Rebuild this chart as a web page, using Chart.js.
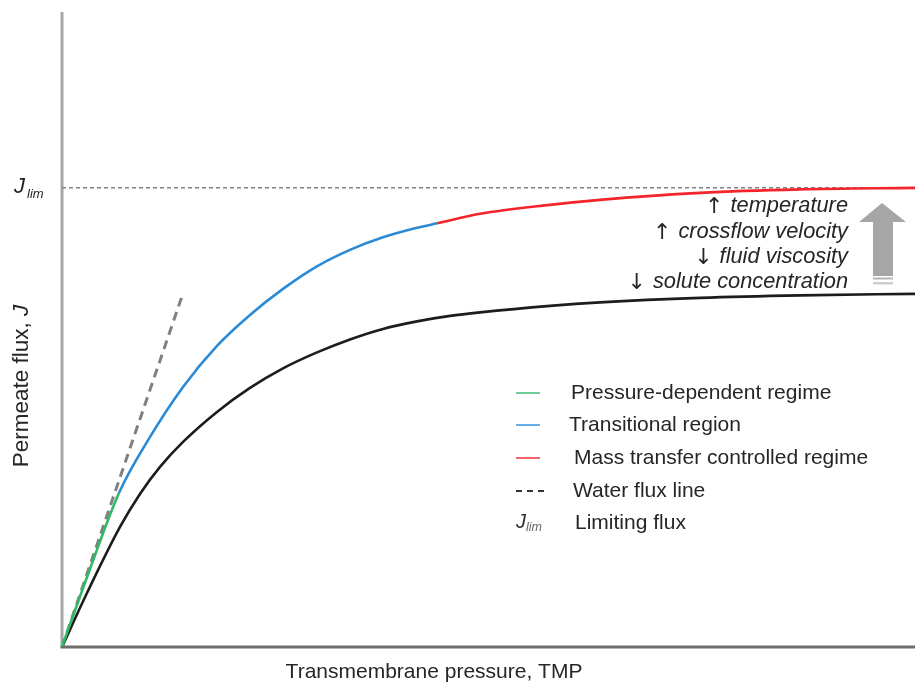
<!DOCTYPE html>
<html>
<head>
<meta charset="utf-8">
<title>Permeate flux vs transmembrane pressure</title>
<script src="https://cdn.jsdelivr.net/npm/chart.js@4/dist/chart.umd.min.js"></script>
<style>
  html, body { margin: 0; padding: 0; background: #ffffff; }
  canvas { display: block; }
</style>
</head>
<body>
<canvas id="flux" width="915" height="685"></canvas>
<script>
// Upper curve: flux with improved operating conditions (approaches J_lim)
const tmpUpper  = [0, 3.28, 6.68, 10.32, 14.19, 18.17, 22.04, 25.91, 29.89, 33.76, 37.63, 41.62, 43.96, 49.0, 57.21, 63.07, 74.8, 86.52, 100];
const fluxUpper = [0, 17.0, 33.55, 45.75, 56.64, 65.58, 72.33, 78.0, 82.9, 86.49, 89.22, 91.29, 92.27, 94.34, 96.3, 97.39, 98.91, 99.67, 100];

// Lower curve: baseline flux
const tmpLower  = [0, 2.93, 6.80, 9.14, 11.49, 14.19, 18.17, 22.04, 25.91, 29.89, 33.76, 37.63, 41.62, 45.49, 49.0, 57.21, 63.07, 74.8, 86.52, 100];
const fluxLower = [0, 11.76, 26.14, 33.33, 39.22, 44.66, 51.20, 56.43, 60.68, 64.16, 66.99, 69.28, 70.92, 72.11, 72.88, 74.29, 75.05, 76.03, 76.58, 76.91];

// Pure water flux line
const tmpWater  = [0, 14.2];
const fluxWater = [0, 77.1];

// Limiting flux and regime boundaries along TMP
const jLim = 100;
const tmpRange = [0, 100];
const pressureRegimeEnd = 6.68;
const transitionEnd = 43.96;

const regimeLabels = ['Pressure-dependent regime', 'Transitional region', 'Mass transfer controlled regime', 'Water flux line', 'Limiting flux'];
const effectLabels = [['\u2191', 'temperature'], ['\u2191', 'crossflow velocity'], ['\u2193', 'fluid viscosity'], ['\u2193', 'solute concentration']];

const GREEN = '#2fb866';
const BLUE = '#2b8ad6';
const RED = '#f5242a';
const BLACK = '#1c1c1c';
const GREY = '#808080';
const FONT = '"Liberation Sans", Arial, Helvetica, sans-serif';

const pts = (xs, ys) => xs.map((x, i) => ({ x, y: ys[i] }));

function text(ctx, str, x, y, size, opts = {}) {
  ctx.save();
  ctx.font = `${opts.italic ? 'italic ' : ''}${size}px ${opts.family || FONT}`;
  ctx.fillStyle = opts.color || '#262626';
  ctx.textAlign = opts.align || 'left';
  ctx.textBaseline = opts.baseline || 'middle';
  ctx.fillText(str, x, y);
  const w = ctx.measureText(str).width;
  ctx.restore();
  return w;
}

const decorations = {
  id: 'decorations',
  beforeDatasetsDraw(chart) {
    const { ctx, chartArea: a } = chart;
    ctx.save();
    ctx.lineCap = 'butt';
    // y axis
    ctx.strokeStyle = '#a6a6a6';
    ctx.lineWidth = 3;
    ctx.beginPath();
    ctx.moveTo(a.left, a.top);
    ctx.lineTo(a.left, a.bottom);
    ctx.stroke();
    // x axis
    ctx.strokeStyle = '#6e6e6e';
    ctx.lineWidth = 3;
    ctx.beginPath();
    ctx.moveTo(a.left - 1.5, a.bottom);
    ctx.lineTo(a.right, a.bottom);
    ctx.stroke();
    ctx.restore();
  },
  afterDraw(chart) {
    const { ctx, scales } = chart;
    const yLim = scales.y.getPixelForValue(jLim);

    // axis titles
    text(ctx, 'Transmembrane pressure, TMP', 434, 672, 21, { align: 'center' });
    ctx.save();
    ctx.font = `22.5px ${FONT}`;
    const t1 = 'Permeate flux, ';
    const wt1 = ctx.measureText(t1).width;
    ctx.font = `italic 22.5px ${FONT}`;
    const wt2 = ctx.measureText('J').width;
    ctx.restore();
    const start = -(wt1 + wt2) / 2;
    ctx.save();
    ctx.translate(22, 386);
    ctx.rotate(-Math.PI / 2);
    text(ctx, t1, start, 0, 22.5);
    text(ctx, 'J', start + wt1, 0, 22.5, { italic: true });
    ctx.restore();

    // J_lim label on the y axis
    text(ctx, 'J', 14, yLim - 1, 22, { italic: true, color: '#1f1f1f' });
    text(ctx, 'lim', 27, yLim + 7, 13, { italic: true, color: '#1f1f1f' });

    // legend
    const lx0 = 516, lx1 = 540;
    const rows = [393, 425, 458, 491, 523];
    ctx.save();
    ctx.lineWidth = 2;
    [GREEN, BLUE, RED].forEach((c, i) => {
      ctx.strokeStyle = c;
      ctx.globalAlpha = 0.7;
      ctx.beginPath();
      ctx.moveTo(lx0, rows[i]);
      ctx.lineTo(lx1, rows[i]);
      ctx.stroke();
    });
    ctx.globalAlpha = 1;
    ctx.strokeStyle = '#333333';
    ctx.setLineDash([6, 5]);
    ctx.beginPath();
    ctx.moveTo(lx0, rows[3]);
    ctx.lineTo(lx0 + 33, rows[3]);
    ctx.stroke();
    ctx.restore();
    text(ctx, 'J', lx0, rows[4] - 1, 20, { italic: true, color: '#333' });
    text(ctx, 'lim', lx0 + 10, rows[4] + 5, 12.5, { italic: true, color: '#666' });
    const offs = [571, 569, 574, 573, 575];
    regimeLabels.forEach((lab, i) => text(ctx, lab, offs[i], rows[i], 21, { color: '#262626' }));

    // operating-condition effects
    const rx = 848;
    const ey = [206, 232, 257, 282];
    effectLabels.forEach(([arrow, word], i) => {
      const w = text(ctx, word, rx, ey[i], 21.8, { italic: true, align: 'right', color: '#262626' });
      text(ctx, arrow, rx - w - 7, ey[i] + 1, 22, { align: 'right', color: '#262626', family: '"DejaVu Sans", sans-serif' });
    });

    // block arrow showing the rise of the limiting flux
    ctx.save();
    ctx.fillStyle = '#a6a6a6';
    ctx.beginPath();
    ctx.moveTo(859, 222);
    ctx.lineTo(882, 203);
    ctx.lineTo(906, 222);
    ctx.lineTo(893, 222);
    ctx.lineTo(893, 276);
    ctx.lineTo(873, 276);
    ctx.lineTo(873, 222);
    ctx.closePath();
    ctx.fill();
    ctx.fillStyle = '#b4b4b4';
    ctx.fillRect(873, 277.5, 20, 2);
    ctx.fillStyle = '#cdcdcd';
    ctx.fillRect(873, 282, 20, 2.5);
    ctx.restore();
  }
};

new Chart(document.getElementById('flux'), {
  type: 'line',
  data: {
    datasets: [
      {
        label: 'Improved conditions',
        data: pts(tmpUpper, fluxUpper),
        borderWidth: 2.6,
        borderColor: BLUE,
        cubicInterpolationMode: 'monotone',
        segment: {
          borderColor: c => c.p0.parsed.x < pressureRegimeEnd - 1e-6 ? GREEN
            : (c.p0.parsed.x < transitionEnd - 1e-6 ? BLUE : RED)
        },
        pointRadius: 0,
        order: 1
      },
      {
        label: 'Baseline',
        data: pts(tmpLower, fluxLower),
        borderWidth: 2.6,
        borderColor: BLACK,
        cubicInterpolationMode: 'monotone',
        pointRadius: 0,
        order: 2
      },
      {
        label: 'Water flux line',
        data: pts(tmpWater, fluxWater),
        borderWidth: 3,
        borderColor: GREY,
        borderDash: [9, 6],
        pointRadius: 0,
        order: 3
      },
      {
        label: 'Limiting flux',
        data: pts(tmpRange, [jLim, jLim]),
        borderWidth: 1.5,
        borderColor: GREY,
        borderDash: [4, 3],
        pointRadius: 0,
        order: 4
      }
    ]
  },
  options: {
    responsive: false,
    animation: false,
    devicePixelRatio: 1,
    layout: { padding: { left: 62, top: 12, right: 0, bottom: 38 } },
    scales: {
      x: { type: 'linear', min: 0, max: 100, display: false },
      y: { type: 'linear', min: 0, max: 138.3, display: false }
    },
    plugins: {
      legend: { display: false },
      tooltip: { enabled: false }
    }
  },
  plugins: [decorations]
});
</script>
</body>
</html>
